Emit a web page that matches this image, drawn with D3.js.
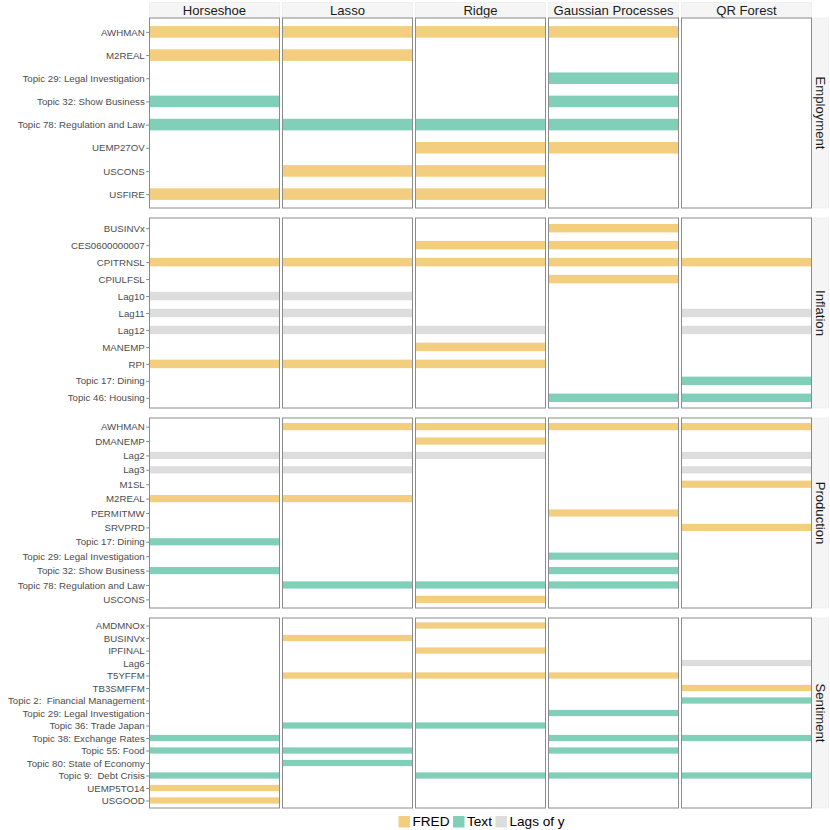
<!DOCTYPE html>
<html>
<head>
<meta charset="utf-8">
<script src="https://cdn.jsdelivr.net/npm/d3@7/dist/d3.min.js"></script>
<style>
  html, body { margin: 0; padding: 0; background: #fff; }
  svg { display: block; font-family: "Liberation Sans", Arial, Helvetica, sans-serif; }
</style>
</head>
<body>
<svg id="chart" width="830" height="830"></svg>
<script>
// ---------------- DATA ----------------
const models = ["Horseshoe", "Lasso", "Ridge", "Gaussian Processes", "QR Forest"];
const targets = ["Employment", "Inflation", "Production", "Sentiment"];
const typeLabels = ["FRED", "Text", "Lags of y"];

const employmentVars = ["AWHMAN", "M2REAL", "Topic 29: Legal Investigation", "Topic 32: Show Business",
  "Topic 78: Regulation and Law", "UEMP27OV", "USCONS", "USFIRE"];
const inflationVars = ["BUSINVx", "CES0600000007", "CPITRNSL", "CPIULFSL", "Lag10", "Lag11", "Lag12",
  "MANEMP", "RPI", "Topic 17: Dining", "Topic 46: Housing"];
const productionVars = ["AWHMAN", "DMANEMP", "Lag2", "Lag3", "M1SL", "M2REAL", "PERMITMW", "SRVPRD",
  "Topic 17: Dining", "Topic 29: Legal Investigation", "Topic 32: Show Business",
  "Topic 78: Regulation and Law", "USCONS"];
const sentimentVars = ["AMDMNOx", "BUSINVx", "IPFINAL", "Lag6", "T5YFFM", "TB3SMFFM",
  "Topic 2:  Financial Management", "Topic 29: Legal Investigation", "Topic 36: Trade Japan",
  "Topic 38: Exchange Rates", "Topic 55: Food", "Topic 80: State of Economy", "Topic 9:  Debt Crisis",
  "UEMP5TO14", "USGOOD"];

const employmentSelected = {
  "Horseshoe": ["AWHMAN", "M2REAL", "Topic 32: Show Business", "Topic 78: Regulation and Law", "USFIRE"],
  "Lasso": ["AWHMAN", "M2REAL", "Topic 78: Regulation and Law", "USCONS", "USFIRE"],
  "Ridge": ["AWHMAN", "Topic 78: Regulation and Law", "UEMP27OV", "USCONS", "USFIRE"],
  "Gaussian Processes": ["AWHMAN", "Topic 29: Legal Investigation", "Topic 32: Show Business", "Topic 78: Regulation and Law", "UEMP27OV"],
  "QR Forest": []
};
const inflationSelected = {
  "Horseshoe": ["CPITRNSL", "Lag10", "Lag11", "Lag12", "RPI"],
  "Lasso": ["CPITRNSL", "Lag10", "Lag11", "Lag12", "RPI"],
  "Ridge": ["CES0600000007", "CPITRNSL", "Lag12", "MANEMP", "RPI"],
  "Gaussian Processes": ["BUSINVx", "CES0600000007", "CPITRNSL", "CPIULFSL", "Topic 46: Housing"],
  "QR Forest": ["CPITRNSL", "Lag11", "Lag12", "Topic 17: Dining", "Topic 46: Housing"]
};
const productionSelected = {
  "Horseshoe": ["Lag2", "Lag3", "M2REAL", "Topic 17: Dining", "Topic 32: Show Business"],
  "Lasso": ["AWHMAN", "Lag2", "Lag3", "M2REAL", "Topic 78: Regulation and Law"],
  "Ridge": ["AWHMAN", "DMANEMP", "Lag2", "Topic 78: Regulation and Law", "USCONS"],
  "Gaussian Processes": ["AWHMAN", "PERMITMW", "Topic 29: Legal Investigation", "Topic 32: Show Business", "Topic 78: Regulation and Law"],
  "QR Forest": ["AWHMAN", "Lag2", "Lag3", "M1SL", "SRVPRD"]
};
const sentimentSelected = {
  "Horseshoe": ["Topic 38: Exchange Rates", "Topic 55: Food", "Topic 9:  Debt Crisis", "UEMP5TO14", "USGOOD"],
  "Lasso": ["BUSINVx", "T5YFFM", "Topic 36: Trade Japan", "Topic 55: Food", "Topic 80: State of Economy"],
  "Ridge": ["AMDMNOx", "IPFINAL", "T5YFFM", "Topic 36: Trade Japan", "Topic 9:  Debt Crisis"],
  "Gaussian Processes": ["T5YFFM", "Topic 29: Legal Investigation", "Topic 38: Exchange Rates", "Topic 55: Food", "Topic 9:  Debt Crisis"],
  "QR Forest": ["Lag6", "TB3SMFFM", "Topic 2:  Financial Management", "Topic 38: Exchange Rates", "Topic 9:  Debt Crisis"]
};

const varsByTarget = [employmentVars, inflationVars, productionVars, sentimentVars];
const selectedByTarget = [employmentSelected, inflationSelected, productionSelected, sentimentSelected];

function varType(v) {
  if (v.startsWith("Topic")) return "Text";
  if (v.startsWith("Lag")) return "Lags of y";
  return "FRED";
}

// ---------------- LAYOUT ----------------
const svg = d3.select("#chart");
const W = 830, H = 830;
const plotLeft = 149.5, plotRight = 811.5;
const colGap = 3;
const panelTop = 18, panelH = 190, rowGap = 10;
const stripTopY = 2.5, stripTopH = 15.5;
const stripRightW = 16.5;

const color = d3.scaleOrdinal().domain(typeLabels).range(["#F2CE7E", "#82CFB9", "#DDDDDD"]);

const panelW = (plotRight - plotLeft - colGap * (models.length - 1)) / models.length;
const xCol = d3.scaleBand().domain(models).range([plotLeft, plotRight]).paddingInner(colGap / (panelW + colGap)).paddingOuter(0);

const rowY = d3.scaleBand().domain(targets)
  .range([panelTop, panelTop + targets.length * panelH + (targets.length - 1) * rowGap])
  .paddingInner(rowGap / (panelH + rowGap)).paddingOuter(0);

const fontFam = '"Liberation Sans", Arial, Helvetica, sans-serif';

// top strips
models.forEach(m => {
  const x0 = xCol(m);
  const g = svg.append("g");
  g.append("rect").attr("x", x0).attr("y", stripTopY).attr("width", xCol.bandwidth()).attr("height", stripTopH)
    .attr("fill", "#F5F5F5").attr("stroke", "#EAEAEA").attr("stroke-width", 0.6);
  g.append("text").attr("x", x0 + xCol.bandwidth() / 2).attr("y", stripTopY + stripTopH / 2)
    .attr("text-anchor", "middle").attr("dominant-baseline", "central")
    .attr("font-size", 13.1).attr("fill", "#1A1A1A").text(m);
});

targets.forEach((t, ti) => {
  const y0 = rowY(t);
  const ph = rowY.bandwidth();
  const vars = varsByTarget[ti];
  const sel = selectedByTarget[ti];
  const y = d3.scalePoint().domain(vars).range([y0, y0 + ph]).padding(0.6);
  const barH = y.step() * 0.5;

  // right strip
  const sx = plotRight + 0.3;
  svg.append("rect").attr("x", sx).attr("y", y0).attr("width", stripRightW).attr("height", ph)
    .attr("fill", "#F5F5F5").attr("stroke", "#EAEAEA").attr("stroke-width", 0.6);
  svg.append("text")
    .attr("transform", `translate(${sx + stripRightW / 2},${y0 + ph / 2}) rotate(90)`)
    .attr("text-anchor", "middle").attr("dominant-baseline", "central")
    .attr("font-size", 13.1).attr("fill", "#1A1A1A").text(t);

  models.forEach((m, mi) => {
    const x0 = xCol(m);
    const pw = xCol.bandwidth();
    const xs = d3.scaleLinear().domain([0, 1]).range([x0, x0 + pw]);
    const g = svg.append("g");
    g.append("rect").attr("x", x0).attr("y", y0).attr("width", pw).attr("height", ph)
      .attr("fill", "#FFFFFF");
    const rows = sel[m].map(v => ({ v, type: varType(v) }));
    g.selectAll("rect.bar").data(rows).join("rect").attr("class", "bar")
      .attr("x", xs(0)).attr("width", xs(1) - xs(0))
      .attr("y", d => y(d.v) - barH / 2).attr("height", barH)
      .attr("fill", d => color(d.type));
    g.append("rect").attr("x", x0).attr("y", y0).attr("width", pw).attr("height", ph)
      .attr("fill", "none").attr("stroke", "#8C8C8C").attr("stroke-width", 1);

    if (mi === 0) {
      const axis = d3.axisLeft(y).tickSize(2.75).tickPadding(1.5);
      const ag = svg.append("g").attr("transform", `translate(${x0 - 0.5},0)`).call(axis);
      ag.select(".domain").remove();
      ag.selectAll(".tick line").attr("stroke", "#333333").attr("stroke-width", 0.6);
      ag.selectAll(".tick text").attr("fill", "#4D4D4D").attr("font-size", 9.7)
        .attr("font-family", fontFam).style("white-space", "pre");
    }
  });
});

// legend
const leg = svg.append("g");
let lx = 398.5;
const keyW = 11.5, keyH = 11.5, ly = 816;
typeLabels.forEach(lbl => {
  leg.append("rect").attr("x", lx).attr("y", ly).attr("width", keyW).attr("height", keyH).attr("fill", color(lbl));
  const tx = leg.append("text").attr("x", lx + keyW + 2.5).attr("y", ly + keyH / 2)
    .attr("dominant-baseline", "central").attr("font-size", 13.6).attr("fill", "#000").text(lbl);
  const w = tx.node().getComputedTextLength();
  lx = lx + keyW + 2.5 + w + 3.5;
});
</script>
</body>
</html>
